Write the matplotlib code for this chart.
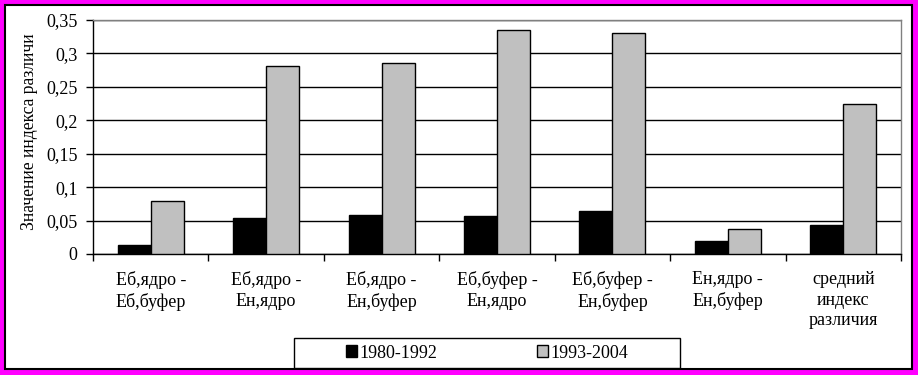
import matplotlib
matplotlib.use('Agg')
import matplotlib.pyplot as plt
import numpy as np
from matplotlib.patches import Rectangle, Patch

# DATA
categories = ['Еб,ядро -\nЕб,буфер', 'Еб,ядро -\nЕн,ядро', 'Еб,ядро -\nЕн,буфер',
              'Еб,буфер -\nЕн,ядро', 'Еб,буфер -\nЕн,буфер', 'Ен,ядро -\nЕн,буфер',
              'средний\nиндекс\nразличия']
series_1980 = [0.014, 0.054, 0.058, 0.057, 0.065, 0.020, 0.043]
series_1993 = [0.080, 0.281, 0.285, 0.335, 0.330, 0.038, 0.224]
labels = ['1980-1992', '1993-2004']
yticks = [0, 0.05, 0.1, 0.15, 0.2, 0.25, 0.3, 0.35]
ytick_labels = ['0', '0,05', '0,1', '0,15', '0,2', '0,25', '0,3', '0,35']

plt.rcParams['font.family'] = ['Liberation Serif', 'DejaVu Serif']
FS = 13

W, H = 918, 375
fig = plt.figure(figsize=(W / 100, H / 100), dpi=100, facecolor='#ff00ff')

# white panel with black border inside the magenta frame
fig.patches.append(Rectangle((5 / W, 1 - 369 / H), (912 - 5) / W, (369 - 5) / H,
                             transform=fig.transFigure, facecolor='white',
                             edgecolor='black', linewidth=1.5, zorder=-5))

ax = fig.add_axes([93 / W, 1 - 254 / H, (901 - 93) / W, (254 - 20) / H])
ax.set_facecolor('none')
x = np.arange(len(categories))
bw = 0.286
ax.bar(x - bw / 2, series_1980, bw, color='black', edgecolor='black', linewidth=1, zorder=3)
ax.bar(x + bw / 2, series_1993, bw, color='#c0c0c0', edgecolor='black', linewidth=1, zorder=3)

ax.set_xlim(-0.5, len(categories) - 0.5)
ax.set_ylim(0, 0.35)
ax.set_yticks(yticks)
ax.set_yticklabels(ytick_labels, fontsize=FS)
ax.yaxis.grid(True, color='black', linewidth=1, zorder=1)
ax.set_axisbelow(True)

# tick marks at category boundaries, labels at centres
ax.set_xticks(np.arange(len(categories) + 1) - 0.5)
ax.set_xticklabels([])
ax.set_xticks(x, minor=True)
ax.set_xticklabels(categories, minor=True, fontsize=FS, linespacing=1.3, va='top')
ax.tick_params(axis='x', which='minor', length=0, pad=12)
ax.tick_params(axis='x', which='major', length=5, width=1, direction='out')
ax.tick_params(axis='y', length=5, width=1, direction='out', pad=6)

for s in ['left', 'bottom']:
    ax.spines[s].set_color('black')
    ax.spines[s].set_linewidth(1)
for s in ['top', 'right']:
    ax.spines[s].set_color('#808080')
    ax.spines[s].set_linewidth(1)

fig.text(30 / W, 1 - 132 / H, 'Значение индекса различи', rotation=90,
         ha='center', va='center', fontsize=12.7)

# legend box
fig.patches.append(Rectangle((294 / W, 1 - 368 / H), (680 - 294) / W, (368 - 338) / H,
                             transform=fig.transFigure, facecolor='white',
                             edgecolor='black', linewidth=1, zorder=1))
handles = [Patch(facecolor='black', edgecolor='black'),
           Patch(facecolor='#c0c0c0', edgecolor='black')]
fig.legend(handles, labels, loc='center', bbox_to_anchor=(487 / W, 1 - 353 / H),
           ncol=2, frameon=False, fontsize=FS, handlelength=0.6, handleheight=0.6,
           handletextpad=0.12, columnspacing=5.55, borderpad=0)

plt.savefig('out.png', dpi=100, facecolor=fig.get_facecolor())
